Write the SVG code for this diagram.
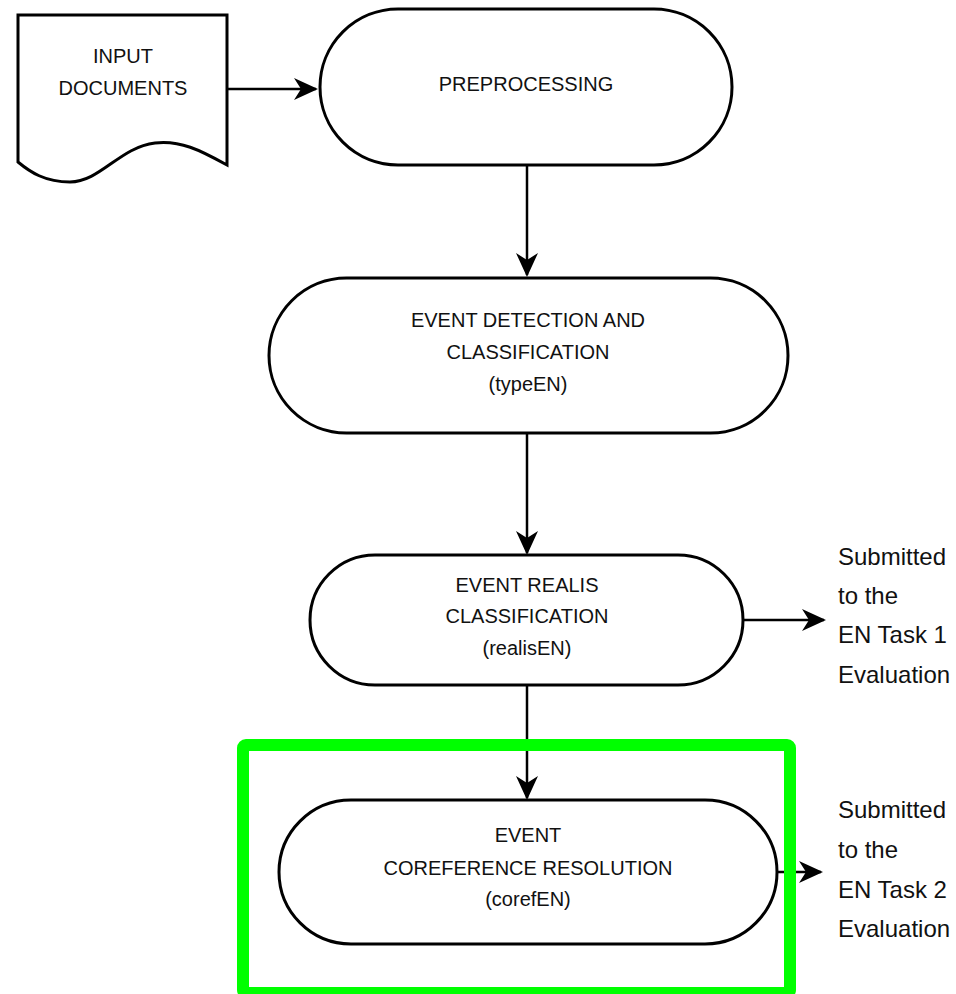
<svg xmlns="http://www.w3.org/2000/svg" width="956" height="994" viewBox="0 0 956 994">
  <defs>
    <marker id="arr" markerUnits="userSpaceOnUse" viewBox="0 0 24 22" markerWidth="24" markerHeight="22" refX="22" refY="11" orient="auto">
      <path d="M0,0 L24,11 L0,22 L7,11 Z" fill="#000"/>
    </marker>
  </defs>
  <style>
    .node { fill: #fff; stroke: #000; stroke-width: 3; }
    .lbl { font-family: "Liberation Sans", Arial, sans-serif; font-size: 20px; fill: #111; text-anchor: middle; }
    .side { font-family: "Liberation Sans", Arial, sans-serif; font-size: 24px; fill: #111; }
    .edge { fill: none; stroke: #000; stroke-width: 2.5; marker-end: url(#arr); }
    .hl { fill: none; stroke: #00ff00; stroke-width: 12; }
  </style>
  <rect width="956" height="994" fill="#fff"/>

  <g id="input-documents">
    <path class="node" d="M18,15 L227,15 L227,165 C200,150 180,140 155,143 C120,147 100,182 70,182 C45,182 30,172 18,162 Z"/>
    <text class="lbl" x="123" y="63">INPUT</text>
    <text class="lbl" x="123" y="95">DOCUMENTS</text>
  </g>

  <g id="preprocessing">
    <rect class="node" x="320" y="9" width="412" height="156" rx="78" ry="78"/>
    <text class="lbl" x="526" y="91">PREPROCESSING</text>
  </g>

  <g id="event-detection">
    <rect class="node" x="269" y="278" width="519" height="155" rx="77.5" ry="77.5"/>
    <text class="lbl" x="528" y="327">EVENT DETECTION AND</text>
    <text class="lbl" x="528" y="359">CLASSIFICATION</text>
    <text class="lbl" x="528" y="391">(typeEN)</text>
  </g>

  <g id="event-realis">
    <rect class="node" x="310" y="555" width="433" height="130" rx="65" ry="65"/>
    <text class="lbl" x="527" y="592">EVENT REALIS</text>
    <text class="lbl" x="527" y="623">CLASSIFICATION</text>
    <text class="lbl" x="527" y="655">(realisEN)</text>
  </g>

  <g id="event-coreference">
    <rect class="node" x="279" y="800" width="498" height="144" rx="72" ry="72"/>
    <text class="lbl" x="528" y="842">EVENT</text>
    <text class="lbl" x="528" y="875">COREFERENCE RESOLUTION</text>
    <text class="lbl" x="528" y="906">(corefEN)</text>
  </g>

  <g id="task1-label">
    <text class="side" x="838" y="565">Submitted</text>
    <text class="side" x="838" y="604">to the</text>
    <text class="side" x="838" y="643">EN Task 1</text>
    <text class="side" x="838" y="683">Evaluation</text>
  </g>

  <g id="task2-label">
    <text class="side" x="838" y="818">Submitted</text>
    <text class="side" x="838" y="858">to the</text>
    <text class="side" x="838" y="898">EN Task 2</text>
    <text class="side" x="838" y="937">Evaluation</text>
  </g>

  <g id="connectors">
    <path class="edge" d="M227,89 L316,89"/>
    <path class="edge" d="M527,165 L527,275"/>
    <path class="edge" d="M527,433 L527,553"/>
    <path class="edge" d="M743,620 L824,620"/>
    <path class="edge" d="M527,685 L527,798"/>
    <path class="edge" d="M777,872 L821,872"/>
  </g>

  <g id="highlight">
    <rect class="hl" x="243" y="745" width="547" height="248" rx="3" ry="3"/>
  </g>
</svg>
